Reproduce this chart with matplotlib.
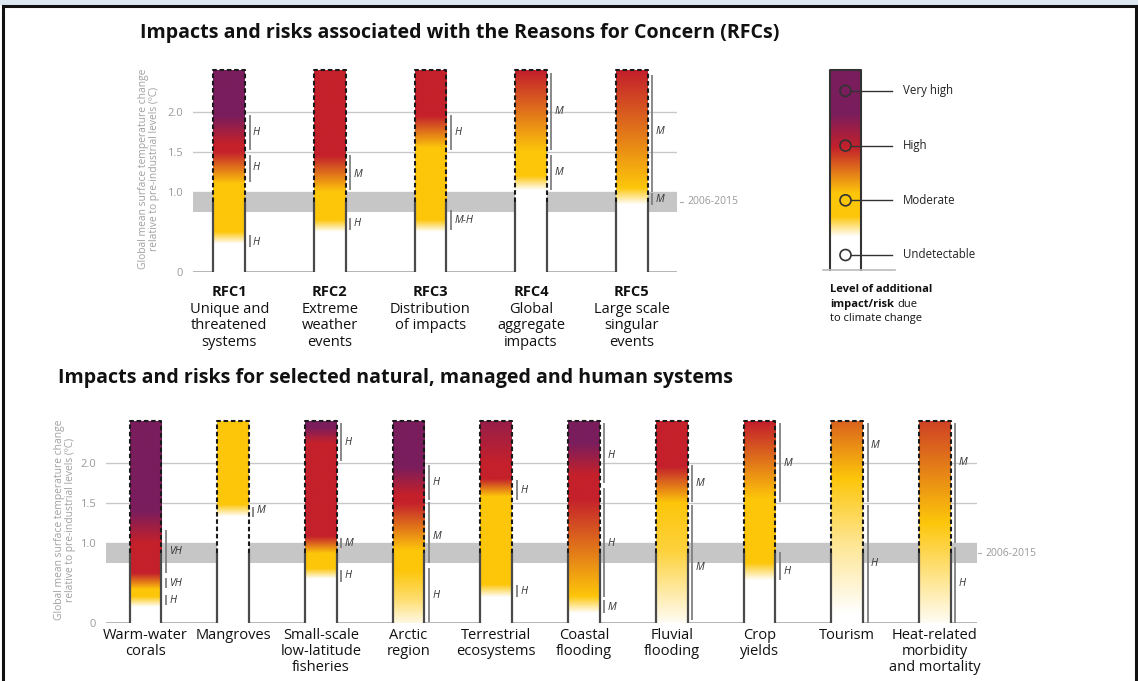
import numpy as np
import matplotlib
matplotlib.use('Agg')
import matplotlib.pyplot as plt
from matplotlib.colors import LinearSegmentedColormap
from matplotlib.lines import Line2D
from matplotlib.patches import Rectangle, Circle

plt.rcParams['font.family'] = ['Open Sans', 'DejaVu Sans']

# ---------------- data ----------------
rfc_names = ['RFC1', 'RFC2', 'RFC3', 'RFC4', 'RFC5']
rfc_desc = ['Unique and\nthreatened\nsystems', 'Extreme\nweather\nevents',
            'Distribution\nof impacts', 'Global\naggregate\nimpacts',
            'Large scale\nsingular\nevents']
# risk level transitions: temperature (ºC) -> level (0 undetectable .. 3 very high)
rfc_temps = [[0.35, 0.5, 1.1, 1.5, 1.6, 1.95],
             [0.5, 0.65, 1.0, 1.45],
             [0.5, 0.65, 1.55, 1.95],
             [1.02, 1.2, 1.5, 2.5],
             [0.84, 1.05, 2.5]]
rfc_levels = [[0, 1, 1, 2, 2, 3],
              [0, 1, 1, 2],
              [0, 1, 1, 2],
              [0, 1, 1, 2],
              [0, 1, 2]]
# confidence: (from, to, label, label position)
rfc_conf = [[(1.52, 1.96, 'H', 1.74), (1.12, 1.46, 'H', 1.30), (0.31, 0.46, 'H', 0.37)],
            [(1.03, 1.46, 'M', 1.22), (0.52, 0.68, 'H', 0.60)],
            [(1.52, 1.96, 'H', 1.74), (0.52, 0.78, 'M-H', 0.64)],
            [(1.52, 2.49, 'M', 2.0), (1.03, 1.46, 'M', 1.24)],
            [(1.0, 2.46, 'M', 1.75), (0.84, 0.99, 'M', 0.90)]]

sys_names = ['Warm-water\ncorals', 'Mangroves', 'Small-scale\nlow-latitude\nfisheries',
             'Arctic\nregion', 'Terrestrial\necosystems', 'Coastal\nflooding',
             'Fluvial\nflooding', 'Crop\nyields', 'Tourism',
             'Heat-related\nmorbidity\nand mortality']
sys_temps = [[0.2, 0.33, 0.42, 0.62, 1.0, 1.4],
             [1.33, 1.48],
             [0.55, 0.68, 0.87, 1.08, 2.25, 2.45],
             [0.0, 0.3, 0.65, 0.9, 1.5, 1.6, 1.95],
             [0.32, 0.48, 1.58, 1.8, 2.0, 2.52],
             [0.12, 0.33, 1.55, 1.85, 2.25],
             [0.0, 0.9, 1.5, 1.95],
             [0.53, 0.75, 1.55, 2.5],
             [0.1, 1.0, 1.8, 2.52],
             [0.0, 0.6, 1.25, 2.52]]
sys_levels = [[0, 1, 1, 2, 2, 3],
              [0, 1],
              [0, 1, 1, 2, 2, 3],
              [0.12, 0.6, 1, 1, 2, 2, 3],
              [0, 1, 1, 2, 2, 2.6],
              [0, 1, 2, 2, 3],
              [0.05, 0.8, 1, 2],
              [0, 1, 1, 2],
              [0, 0.45, 1, 1.6],
              [0.05, 0.5, 1, 1.8]]
sys_conf = [[(0.62, 1.16, 'VH', 0.89), (0.44, 0.56, 'VH', 0.50), (0.22, 0.35, 'H', 0.28)],
            [(1.33, 1.45, 'M', 1.41)],
            [(2.02, 2.5, 'H', 2.26), (0.94, 1.06, 'M', 0.99), (0.51, 0.66, 'H', 0.60)],
            [(1.54, 1.97, 'H', 1.76), (0.75, 1.51, 'M', 1.08), (0.01, 0.69, 'H', 0.35)],
            [(1.54, 1.79, 'H', 1.66), (0.33, 0.48, 'H', 0.39)],
            [(1.75, 2.5, 'H', 2.10), (0.33, 1.69, 'H', 0.99), (0.12, 0.29, 'M', 0.20)],
            [(1.51, 1.98, 'M', 1.74), (0.04, 1.47, 'M', 0.70)],
            [(1.51, 2.5, 'M', 1.99), (0.54, 0.89, 'H', 0.64)],
            [(1.51, 2.5, 'M', 2.22), (0.0, 1.47, 'H', 0.74)],
            [(1.0, 2.5, 'M', 2.01), (0.0, 0.95, 'H', 0.49)]]

yticks = [0, 1.0, 1.5, 2.0]
ytick_labels = ['0', '1.0', '1.5', '2.0']
band = (0.75, 1.0)
band_label = '2006-2015'
legend_names = ['Undetectable', 'Moderate', 'High', 'Very high']
legend_levels = [0, 1, 2, 3]
# legend scale: position (0 bottom .. 3 top) -> level
legend_pos = [0, 0.5, 0.8, 1.15, 1.84, 2.35, 3.0]
legend_grad = [0, 0, 1, 1, 2, 3, 3]

BAR_TOP = 2.52
DASH_FROM = 0.87

risk_cmap = LinearSegmentedColormap.from_list(
    'risk', [(0, '#ffffff'), (1 / 3, '#fdc60a'), (2 / 3, '#c4212b'), (1, '#7a1d5d')])

W, H = 1138, 681
fig = plt.figure(figsize=(W / 100, H / 100), dpi=100)

# frame of the original figure
fig.add_artist(Rectangle((0, 1 - 5 / H), 1, 5 / H, transform=fig.transFigure,
                         color='#dde7f2', lw=0))
for xs, ys in [([3 / W, 1136 / W], [1 - 6 / H] * 2),
               ([3 / W] * 2, [0, 1 - 6 / H]),
               ([1136 / W] * 2, [0, 1 - 6 / H])]:
    fig.add_artist(Line2D(xs, ys, transform=fig.transFigure, color='#111', lw=2.2))


def draw_panel(ax, temps, levels, conf, pxu, hw):
    ax.axhspan(band[0], band[1], color='#c6c6c6', lw=0, zorder=1)
    for yv in yticks:
        ax.axhline(yv, color='#c8c8c8' if yv else '#b5b5b5', lw=1.0 if yv else 1.4, zorder=0.5)
    y = np.linspace(0, BAR_TOP, 500)
    for i, (t, l) in enumerate(zip(temps, levels)):
        lv = np.interp(y, t, l)
        img = risk_cmap(lv / 3.0)[:, None, :]
        ax.imshow(img, extent=(i - hw, i + hw, 0, BAR_TOP), origin='lower',
                  aspect='auto', interpolation='bilinear', zorder=2)
        for xe in (i - hw, i + hw):
            ax.plot([xe, xe], [0, DASH_FROM], color='#4a4a4a', lw=1.6, zorder=3,
                    solid_capstyle='butt')
        ax.plot([i - hw, i - hw, i + hw, i + hw], [DASH_FROM, BAR_TOP, BAR_TOP, DASH_FROM],
                color='#1a1a1a', lw=1.5, ls=(0, (2.2, 1.3)), zorder=3)
        for lo, hi, lab, ly in conf[i]:
            xl = i + hw + 4.5 / pxu
            ax.plot([xl, xl], [lo, hi], color='#808080', lw=1.3, zorder=3,
                    solid_capstyle='butt')
            ax.text(xl + 3.5 / pxu, ly, lab, style='italic', fontsize=7.5,
                    color='#333333', va='center', ha='left', zorder=4)
    ax.set_ylim(0, 2.6)
    ax.set_yticks(yticks)
    ax.set_yticklabels(ytick_labels)
    ax.set_xticks([])
    ax.tick_params(axis='y', length=0, pad=7, labelsize=8, labelcolor='#9a9a9a')
    for s in ax.spines.values():
        s.set_visible(False)
    ax.patch.set_visible(False)


# ---------------- top panel ----------------
ax1 = fig.add_axes([193 / W, 1 - 272 / H, 484 / W, 208 / H])
draw_panel(ax1, rfc_temps, rfc_levels, rfc_conf, 100.7, 0.157)
ax1.set_xlim(-0.36, 4.45)
for i, (n, d) in enumerate(zip(rfc_names, rfc_desc)):
    ax1.text(i, -0.16, n, ha='center', va='top', fontsize=10.5, fontweight='bold', color='#111')
    ax1.text(i, -0.37, d, ha='center', va='top', fontsize=10.5, color='#111', linespacing=1.17)
ax1.plot([4.48, 4.51], [0.875, 0.875], color='#aaa', lw=0.8, clip_on=False)
ax1.text(4.55, 0.875, band_label, fontsize=7.5, color='#999', va='center', ha='left')
fig.text(460 / W, 1 - 33 / H, 'Impacts and risks associated with the Reasons for Concern (RFCs)',
         ha='center', va='center', fontsize=14.1, fontweight='bold', color='#111')
fig.text(149 / W, 1 - 169 / H,
         'Global mean surface temperature change\nrelative to pre-industrial levels (ºC)',
         rotation=90, ha='center', va='center', fontsize=7.4, color='#a0a0a0', linespacing=1.0)

# ---------------- bottom panel ----------------
ax2 = fig.add_axes([106 / W, 1 - 623 / H, 871 / W, 208 / H])
draw_panel(ax2, sys_temps, sys_levels, sys_conf, 87.74, 0.18)
ax2.set_xlim(-0.448, 9.479)
for i, n in enumerate(sys_names):
    ax2.text(i, -0.06, n, ha='center', va='top', fontsize=10.5, color='#111', linespacing=1.1)
ax2.plot([9.49, 9.53], [0.875, 0.875], color='#aaa', lw=0.8, clip_on=False)
ax2.text(9.57, 0.875, band_label, fontsize=7.5, color='#999', va='center', ha='left')
fig.text(58 / W, 1 - 378 / H, 'Impacts and risks for selected natural, managed and human systems',
         ha='left', va='center', fontsize=14.1, fontweight='bold', color='#111')
fig.text(65 / W, 1 - 520 / H,
         'Global mean surface temperature change\nrelative to pre-industrial levels (ºC)',
         rotation=90, ha='center', va='center', fontsize=7.4, color='#a0a0a0', linespacing=1.0)

# ---------------- legend ----------------
axl = fig.add_axes([815 / W, 1 - 330 / H, 190 / W, 270 / H])
ly = np.linspace(0, 3, 400)
lg = np.interp(ly, legend_pos, legend_grad)
axl.imshow(risk_cmap(lg / 3.0)[:, None, :], extent=(830, 861, 270, 70), origin='lower',
           aspect='auto', interpolation='bilinear', zorder=1)
axl.set_xlim(815, 1005)
axl.set_ylim(330, 60)
axl.axis('off')
axl.plot([830, 830, 861, 861], [270, 70, 70, 270], color='#333', lw=1.5, zorder=2)
axl.plot([823, 895], [270, 270], color='#bbb', lw=1.2)
for lev, name in zip(legend_levels, legend_names):
    yc = 255 - lev * 54.7
    axl.add_patch(Circle((845.5, yc), 5.5, fill=False, ec='#333', lw=1.2, zorder=3))
    axl.plot([851, 892], [yc, yc], color='#333', lw=1.0, zorder=3)
    axl.text(903, yc, name, fontsize=8.3, color='#222', va='center', ha='left')
axl.text(830, 290, 'Level of additional', fontsize=8, fontweight='bold', color='#111', va='center')
t_ir = axl.text(830, 307, 'impact/risk', fontsize=8, fontweight='bold', color='#111', va='baseline')
fig.canvas.draw()
bb = t_ir.get_window_extent(renderer=fig.canvas.get_renderer())
axl.text(830 + bb.width + 3, 307, 'due', fontsize=8, color='#111', va='baseline')
axl.text(830, 318, 'to climate change', fontsize=8, color='#111', va='center')

fig.savefig('out.png', dpi=100, facecolor='white')
